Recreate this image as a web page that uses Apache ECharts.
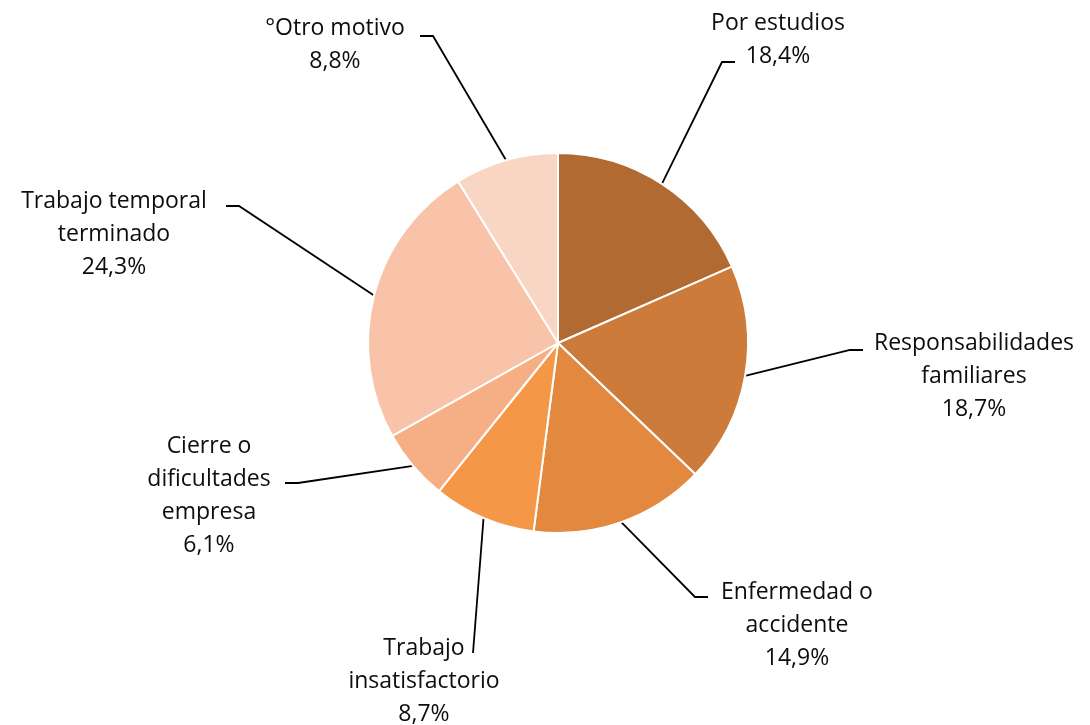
<!DOCTYPE html>
<html>
<head>
<meta charset="utf-8">
<script src="https://cdn.jsdelivr.net/npm/echarts@6/dist/echarts.min.js"></script>
<style>
  html, body { margin: 0; padding: 0; background: #fff; }
  #chart { width: 1090px; height: 725px; }
</style>
</head>
<body>
<div id="chart"></div>
<script>
// motivos de salida (orden horario desde las 12)
const categories = [
  "Por estudios",
  "Responsabilidades\nfamiliares",
  "Enfermedad o\naccidente",
  "Trabajo\ninsatisfactorio",
  "Cierre o\ndificultades\nempresa",
  "Trabajo temporal\nterminado",
  "°Otro motivo"
];
const values = [18.4, 18.7, 14.9, 8.7, 6.1, 24.3, 8.8];
const colors = ["#b06a32", "#cc7b3a", "#e2893f", "#f49848", "#f6af84", "#f8c3a8", "#f9d5c4"];

// posición de cada etiqueta y de su trazo horizontal corto
const labelSpots = [
  { x: 778, y: 40, dx: -43, dy: 22, tick: -13 },
  { x: 974, y: 376, dx: -111, dy: -26, tick: -13 },
  { x: 797, y: 625, dx: -89, dy: -28, tick: -13 },
  { x: 424, y: 681, dx: 49, dy: -28, tick: 0 },
  { x: 209, y: 496, dx: 76, dy: -13, tick: 13 },
  { x: 114, y: 234, dx: 112, dy: -28, tick: 13 },
  { x: 335, y: 45, dx: 85, dy: -9, tick: 13 }
];

const fmt = (v) => v.toFixed(1).replace(".", ",") + "%";

const chart = echarts.init(document.getElementById("chart"), null, { renderer: "canvas" });

chart.setOption({
  animation: false,
  backgroundColor: "#fff",
  series: [{
    type: "pie",
    center: [558, 343],
    radius: 190,
    startAngle: 90,
    clockwise: true,
    avoidLabelOverlap: false,
    data: categories.map((name, i) => ({ name, value: values[i], itemStyle: { color: colors[i] } })),
    itemStyle: { borderColor: "#fff", borderWidth: 2 },
    label: {
      show: true,
      position: "outside",
      formatter: (p) => `${p.name}\n${fmt(p.value)}`,
      fontFamily: "Open Sans",
      fontSize: 23,
      lineHeight: 33,
      color: "#0d0d0d"
    },
    labelLine: {
      show: true,
      length: 20,
      length2: 10,
      lineStyle: { color: "#000", width: 1.8 }
    },
    labelLayout: (params) => {
      const s = labelSpots[params.dataIndex];
      const ax = s.x + s.dx;
      const ay = s.y + s.dy;
      const start = params.labelLinePoints ? params.labelLinePoints[0] : [ax, ay];
      return {
        x: s.x,
        y: s.y,
        align: "center",
        verticalAlign: "middle",
        labelLinePoints: [start, [ax + s.tick, ay], [ax, ay]]
      };
    },
    emphasis: { disabled: true }
  }]
});
</script>
</body>
</html>
